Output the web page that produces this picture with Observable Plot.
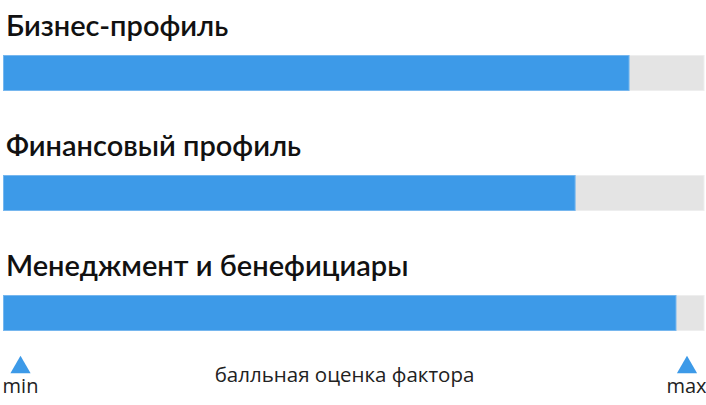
<!DOCTYPE html>
<html>
<head>
<meta charset="utf-8">
<script src="https://cdn.jsdelivr.net/npm/d3@7"></script>
<script src="https://cdn.jsdelivr.net/npm/@observablehq/plot@0.6"></script>
<style>
  html, body { margin: 0; padding: 0; background: #fff; }
</style>
</head>
<body>
<div id="chart"></div>
<script>
const factors = ["Бизнес-профиль", "Финансовый профиль", "Менеджмент и бенефициары"];
const scores = [89.3, 81.6, 96.0];
const scaleMin = 0;
const scaleMax = 100;
const axisCaption = "балльная оценка фактора";
const endLabels = ["min", "max"];

const rows = factors.map((f, i) => ({factor: f, score: scores[i], min: scaleMin, max: scaleMax}));

const blue = "#3d9ae8";
const grey = "#e4e4e4";

const chart = Plot.plot({
  width: 706,
  height: 405,
  marginLeft: 0, marginRight: 0, marginTop: 0, marginBottom: 0,
  style: {background: "#fff", overflow: "visible"},
  x: {domain: [scaleMin, scaleMax], range: [3.5, 704], axis: null},
  y: {domain: factors, range: [13, 373], padding: 0, axis: null},
  marks: [
    Plot.barX(rows, {x1: "min", x2: "max", y: "factor", fill: grey, stroke: "#eeeeee", strokeWidth: 1, insetTop: 42.5, insetBottom: 42.5}),
    Plot.barX(rows, {x1: "min", x2: "score", y: "factor", fill: blue, stroke: "#76b7ef", strokeWidth: 1, insetTop: 42.5, insetBottom: 42.5}),
    Plot.text(rows, {x: "min", y: "factor", text: "factor", textAnchor: "start", lineAnchor: "middle", dx: 2, dy: -47,
      fontFamily: "Lato", fontSize: 29, fontWeight: 600, fill: "#111"}),
    Plot.dot([endLabels[0]], {frameAnchor: "bottom-left", dx: 20, dy: -38, symbol: "triangle", r: 7.5, fill: blue, stroke: "none"}),
    Plot.dot([endLabels[1]], {frameAnchor: "bottom-right", dx: -19.5, dy: -38, symbol: "triangle", r: 7.5, fill: blue, stroke: "none"}),
    Plot.text([endLabels[0]], {frameAnchor: "bottom-left", text: d => d, dx: 20, dy: -13, textAnchor: "middle", lineAnchor: "bottom",
      fontFamily: "Open Sans", fontSize: 20, fill: "#222"}),
    Plot.text([endLabels[1]], {frameAnchor: "bottom-right", text: d => d, dx: -20, dy: -13, textAnchor: "middle", lineAnchor: "bottom",
      fontFamily: "Open Sans", fontSize: 20, fill: "#222"}),
    Plot.text([axisCaption], {frameAnchor: "bottom", text: d => d, dx: -9, dy: -24, textAnchor: "middle", lineAnchor: "bottom",
      fontFamily: "Open Sans", fontSize: 20.5, fill: "#222"})
  ]
});
document.getElementById("chart").appendChild(chart);
</script>
</body>
</html>
